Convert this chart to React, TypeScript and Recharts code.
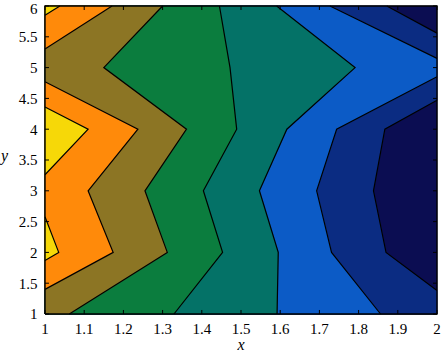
import React from 'react'
import { ScatterChart, Scatter, XAxis, YAxis, ReferenceLine } from 'recharts'

type Pt = { x: number; y: number }

// Contour lines, in data units.
// Each one is the edge of the region where the value is at least that level (left side).
const yellowTop: Pt[] = [{ x: 1, y: 5.85 }, { x: 1.038, y: 6 }]
const yellowMid: Pt[] = [{ x: 1, y: 4.36 }, { x: 1.11, y: 4 }, { x: 1, y: 3.26 }]
const yellowLow: Pt[] = [{ x: 1, y: 2.58 }, { x: 1.035, y: 2 }, { x: 1, y: 1.87 }]
const orangeTop: Pt[] = [{ x: 1, y: 5.3 }, { x: 1.171, y: 6 }]
const orangeLow: Pt[] = [
  { x: 1, y: 4.77 }, { x: 1.237, y: 4 }, { x: 1.11, y: 3 }, { x: 1.174, y: 2 }, { x: 1, y: 1.4 },
]
const oliveEdge: Pt[] = [
  { x: 1.3, y: 6 }, { x: 1.15, y: 5 }, { x: 1.361, y: 4 }, { x: 1.255, y: 3 }, { x: 1.312, y: 2 }, { x: 1.062, y: 1 },
]
const greenEdge: Pt[] = [
  { x: 1.445, y: 6 }, { x: 1.472, y: 5 }, { x: 1.489, y: 4 }, { x: 1.404, y: 3 }, { x: 1.453, y: 2 }, { x: 1.329, y: 1 },
]
const tealEdge: Pt[] = [
  { x: 1.591, y: 6 }, { x: 1.791, y: 5 }, { x: 1.617, y: 4 }, { x: 1.547, y: 3 }, { x: 1.595, y: 2 }, { x: 1.592, y: 1 },
]
const blueTop: Pt[] = [{ x: 1.727, y: 6 }, { x: 2, y: 5.15 }]
const blueLow: Pt[] = [
  { x: 2, y: 4.85 }, { x: 1.744, y: 4 }, { x: 1.693, y: 3 }, { x: 1.731, y: 2 }, { x: 1.856, y: 1 },
]
const darkTop: Pt[] = [{ x: 1.872, y: 6 }, { x: 2, y: 5.56 }]
const darkLow: Pt[] = [
  { x: 2, y: 4.47 }, { x: 1.867, y: 4 }, { x: 1.838, y: 3 }, { x: 1.87, y: 2 }, { x: 2, y: 1.38 },
]

const xTicks = [1, 1.1, 1.2, 1.3, 1.4, 1.5, 1.6, 1.7, 1.8, 1.9, 2]
const yTicks = [1, 1.5, 2, 2.5, 3, 3.5, 4, 4.5, 5, 5.5, 6]

const NAVY = '#0b0d52'
const DARK = '#0b2c82'
const BLUE = '#0c5bc6'
const TEAL = '#047267'
const GREEN = '#0b7d3e'
const OLIVE = '#8c7524'
const ORANGE = '#ff8a0a'
const YELLOW = '#f6d808'

const TL = { x: 1, y: 6 }
const TR = { x: 2, y: 6 }
const BL = { x: 1, y: 1 }
const BR = { x: 2, y: 1 }

// painted from the lowest level up, each one over the last
const fills = [
  { color: NAVY, pts: [BL, TL, TR, BR] },
  { color: DARK, pts: [TL, ...darkTop, ...darkLow, BR, BL] },
  { color: BLUE, pts: [TL, ...blueTop, ...blueLow, BL] },
  { color: TEAL, pts: [TL, ...tealEdge, BL] },
  { color: GREEN, pts: [TL, ...greenEdge, BL] },
  { color: OLIVE, pts: [TL, ...oliveEdge, BL] },
  { color: ORANGE, pts: [TL, ...orangeTop] },
  { color: ORANGE, pts: orangeLow },
  { color: YELLOW, pts: [TL, ...yellowTop] },
  { color: YELLOW, pts: yellowMid },
  { color: YELLOW, pts: yellowLow },
]

const contours = [
  yellowTop, yellowMid, yellowLow, orangeTop, orangeLow, oliveEdge,
  greenEdge, tealEdge, blueTop, blueLow, darkTop, darkLow,
]

const FONT = '"Liberation Serif", "Times New Roman", serif'

// inward tick length, in axis units (about 4px each way)
const TICK_X = 0.0102
const TICK_Y = 0.065

// frame and inner ticks are scatter lines too, so they are painted after the fills
const frame: Pt[] = [BL, TL, TR, BR, BL]
const tickSegs: Pt[][] = [
  ...xTicks.flatMap((t) => [
    [{ x: t, y: 1 }, { x: t, y: 1 + TICK_Y }],
    [{ x: t, y: 6 }, { x: t, y: 6 - TICK_Y }],
  ]),
  ...yTicks.flatMap((t) => [
    [{ x: 1, y: t }, { x: 1 + TICK_X, y: t }],
    [{ x: 2, y: t }, { x: 2 - TICK_X, y: t }],
  ]),
]

const polygonFill = (color: string) => (p: any) => {
  const pts = (p.points || []).map((q: any) => `${q.x},${q.y}`).join(' ')
  return <polygon points={pts} fill={color} stroke={color} strokeWidth={0.6} />
}

const noDot = () => <g />

export default function App() {
  return (
    <div style={{ position: 'absolute', left: 0, top: 0, width: 441, height: 352, background: '#fff' }}>
      <ScatterChart width={441} height={352} margin={{ top: 6, right: 4, bottom: 0, left: 0 }}>
        {fills.map((f, i) => (
          <Scatter
            key={'f' + i}
            data={f.pts}
            shape={noDot}
            line={polygonFill(f.color)}
            isAnimationActive={false}
          />
        ))}
        {contours.map((c, i) => (
          <Scatter
            key={'c' + i}
            data={c}
            shape={noDot}
            line={{ stroke: '#000', strokeWidth: 1.2 }}
            isAnimationActive={false}
          />
        ))}
        {tickSegs.map((s, i) => (
          <Scatter
            key={'t' + i}
            data={s}
            shape={noDot}
            line={{ stroke: '#000', strokeWidth: 1 }}
            isAnimationActive={false}
          />
        ))}
        <Scatter
          data={frame}
          shape={noDot}
          line={{ stroke: '#000', strokeWidth: 1.4 }}
          isAnimationActive={false}
        />
        <ReferenceLine y={4} stroke="#fff" strokeOpacity={0.12} />
        <XAxis
          type="number"
          dataKey="x"
          domain={[1, 2]}
          ticks={xTicks}
          height={38}
          tickSize={-4}
          tickMargin={13}
          axisLine={{ stroke: '#000' }}
          tickLine={false}
          tick={{ fill: '#000', fontSize: 15, fontFamily: FONT }}
          label={{ value: 'x', position: 'insideBottom', offset: 2, fill: '#000', fontSize: 16, fontStyle: 'italic', fontFamily: FONT }}
        />
        <YAxis
          type="number"
          dataKey="y"
          domain={[1, 6]}
          ticks={yTicks}
          width={45}
          tickSize={-4}
          tickMargin={11.5}
          axisLine={{ stroke: '#000' }}
          tickLine={false}
          tick={{ fill: '#000', fontSize: 15, fontFamily: FONT }}
          label={{
            content: (props: any) => {
              const vb = props.viewBox || { x: 0, y: 6, width: 45, height: 308 }
              return (
                <text x={vb.x + 1} y={vb.y + vb.height / 2 + 1} fill="#000" fontSize={16} fontStyle="italic" fontFamily={FONT}>
                  y
                </text>
              )
            },
          }}
        />
      </ScatterChart>
    </div>
  )
}
